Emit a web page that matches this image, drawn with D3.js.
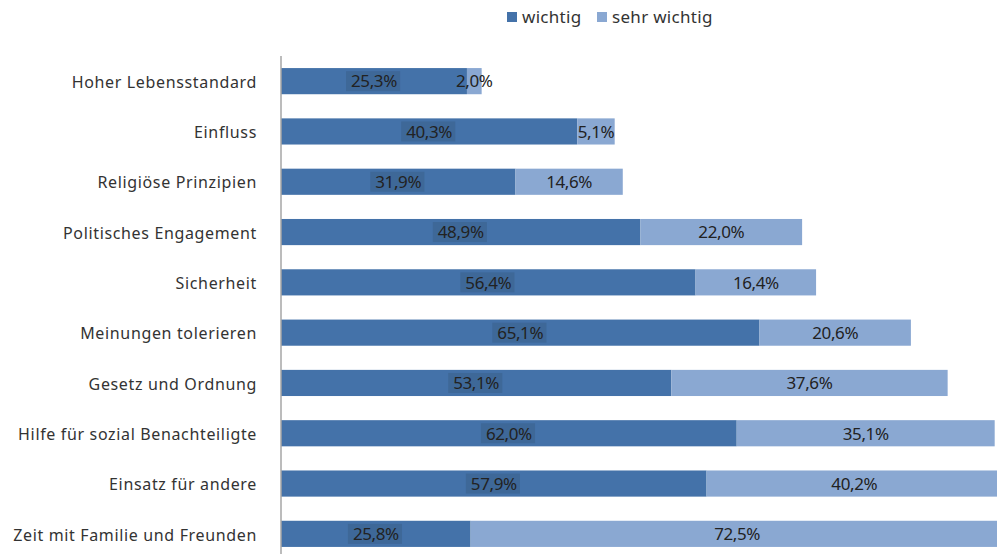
<!DOCTYPE html>
<html><head><meta charset="utf-8">
<script src="https://cdn.jsdelivr.net/npm/d3@7"></script>
<style>body{margin:0;background:#fff;}svg{display:block;}</style>
</head><body>
<script>
const categories = ["Hoher Lebensstandard","Einfluss","Religiöse Prinzipien","Politisches Engagement","Sicherheit","Meinungen tolerieren","Gesetz und Ordnung","Hilfe für sozial Benachteiligte","Einsatz für andere","Zeit mit Familie und Freunden"];
const wichtig = [25.3,40.3,31.9,48.9,56.4,65.1,53.1,62.0,57.9,25.8];
const sehrWichtig = [2.0,5.1,14.6,22.0,16.4,20.6,37.6,35.1,40.2,72.5];
const seriesNames = ["wichtig","sehr wichtig"];
const colors = ["#4472a9","#8aa8d2"];

const W=997,H=554;
const svg=d3.select("body").append("svg").attr("width",W).attr("height",H);
const font="'Noto Sans', sans-serif";
const x=d3.scaleLinear().domain([0,100]).range([281,1016]);
const y=d3.scaleBand().domain(categories).range([56,559]).paddingInner(0.48).paddingOuter(0.24);
const fmt=v=>v.toFixed(1).replace(".",",")+"%";

const g=svg.append("g");
categories.forEach((c,i)=>{
  const y0=y(c), h=y.bandwidth();
  g.append("rect").attr("x",x(0)).attr("y",y0).attr("width",x(wichtig[i])-x(0)).attr("height",h).attr("fill",colors[0]);
  g.append("rect").attr("x",x(wichtig[i])).attr("y",y0).attr("width",x(wichtig[i]+sehrWichtig[i])-x(wichtig[i])).attr("height",h).attr("fill",colors[1]);
});
// labels
categories.forEach((c,i)=>{
  const cy=y(c)+y.bandwidth()/2;
  const cx1=(x(0)+x(wichtig[i]))/2;
  const t1=g.append("text").attr("x",cx1).attr("y",cy).attr("dy","0.37em").attr("text-anchor","middle")
    .attr("font-family",font).attr("font-size",17).attr("fill","#222").attr("letter-spacing","-0.4").text(fmt(wichtig[i]));
  const bb=t1.node().getBBox();
  g.insert("rect",()=>t1.node()).attr("x",bb.x-5).attr("y",cy-10).attr("width",bb.width+8).attr("height",20).attr("fill","#3e6898");
  const cx2=(x(wichtig[i])+x(wichtig[i]+sehrWichtig[i]))/2;
  g.append("text").attr("x",cx2).attr("y",cy).attr("dy","0.37em").attr("text-anchor","middle")
    .attr("font-family",font).attr("font-size",17).attr("fill","#222").attr("letter-spacing","-0.4").text(fmt(sehrWichtig[i]));
});
// axis
const ax=svg.append("g").attr("transform",`translate(${x(0)},0)`).call(d3.axisLeft(y).tickSize(0).tickPadding(24));
ax.select(".domain").attr("stroke","#a6a6a6").attr("stroke-width",1.5).attr("d",`M0,56V${H}`);
ax.selectAll("text").attr("font-family",font).attr("font-size",16).attr("fill","#333").attr("letter-spacing","0.65").attr("dy","0.42em");

// legend
const lg=svg.append("g");
const lx=[507,597];
seriesNames.forEach((n,i)=>{
  lg.append("rect").attr("x",lx[i]).attr("y",12).attr("width",10).attr("height",10).attr("fill",colors[i]);
  lg.append("text").attr("x",lx[i]+15).attr("y",17).attr("dy","0.35em").attr("font-family",font).attr("font-size",17).attr("fill","#333").attr("letter-spacing","0.3").text(n);
});
</script>
</body></html>
